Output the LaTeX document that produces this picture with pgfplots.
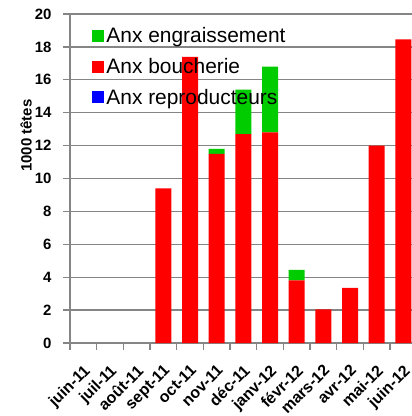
\documentclass[border=0pt]{standalone}
\usepackage{fontspec}
\setmainfont{Liberation Sans}
\usepackage{pgfplots}
\pgfplotsset{compat=1.18}
\definecolor{cgreen}{HTML}{00CC00}
\definecolor{cred}{HTML}{FF0000}
\definecolor{cblue}{HTML}{0000FF}
\definecolor{cgrid}{HTML}{858585}
\begin{document}
\begin{tikzpicture}
\begin{axis}[
  scale only axis,
  width=342bp, height=329bp,
  xmin=-0.5, xmax=12.325,
  ymin=0, ymax=20,
  ybar stacked,
  bar width=0.6,
  axis x line=bottom, axis y line=left,
  axis line style={cgrid, line width=1.3bp, -},
  ytick={0,2,...,20},
  ymajorgrids,
  grid style={cgrid, line width=1.3bp},
  xtick={0,...,12},
  xticklabels={juin-11,juil-11,août-11,sept-11,oct-11,nov-11,déc-11,janv-12,févr-12,mars-12,avr-12,mai-12,juin-12},
  minor xtick={-0.5,0.5,...,11.5},
  tick align=outside,
  major tick length=7bp,
  minor tick length=7bp,
  x tick style={draw=none},
  minor x tick style={draw=cgrid, line width=1.3bp},
  y tick style={draw=cgrid, line width=1.3bp},
  /pgf/number format/assume math mode=true,
  yticklabel style={font=\bfseries\fontsize{15}{17}\selectfont, xshift=-8bp},
  x tick label style={font=\bfseries\fontsize{16}{18}\selectfont, rotate=45, anchor=north east, inner sep=1bp, xshift=-9bp, yshift=-8bp},
  ylabel={1000 têtes},
  every axis y label/.style={at={(axis description cs:-0.128,0.63)}, rotate=90, anchor=center, font=\bfseries\fontsize{15}{17}\selectfont},
  reverse legend,
  legend cell align=left,
  legend image code/.code={\path[#1] (0bp,-6bp) rectangle (12bp,6bp);},
  legend style={at={(axis description cs:0.065,0.965)}, anchor=north west, draw=none, fill=none,
    font=\fontsize{21}{21}\selectfont, row sep=10bp, inner sep=0bp,
    /tikz/every even column/.append style={column sep=6bp}},
]
\addplot[fill=cblue, draw=none] coordinates {(0,0) (1,0) (2,0) (3,0) (4,0) (5,0) (6,0) (7,0) (8,0) (9,0) (10,0) (11,0) (12,0)};
\addlegendentry{Anx reproducteurs}
\addplot[fill=cred, draw=none] coordinates {(0,0) (1,0) (2,0) (3,9.4) (4,17.4) (5,11.5) (6,12.7) (7,12.8) (8,3.8) (9,2.05) (10,3.35) (11,12.0) (12,18.45)};
\addlegendentry{Anx boucherie}
\addplot[fill=cgreen, draw=none] coordinates {(0,0) (1,0) (2,0) (3,0) (4,0) (5,0.3) (6,2.7) (7,4.0) (8,0.65) (9,0) (10,0) (11,0) (12,0)};
\addlegendentry{Anx engraissement}
\end{axis}
\pgfresetboundingbox
\path[use as bounding box] (-70bp,-73bp) rectangle (342bp,343bp);
\end{tikzpicture}
\end{document}
